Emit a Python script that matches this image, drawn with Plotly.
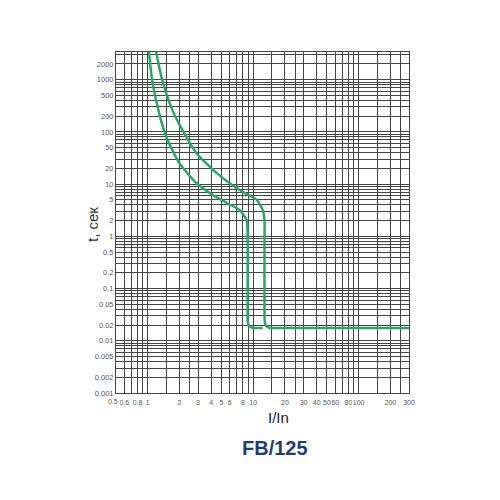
import plotly.graph_objects as go
import math

# ---- data ----
x_tick_vals = [0.6, 0.8, 1, 2, 3, 4, 5, 6, 8, 10, 20, 30, 40, 50, 60, 80, 100, 200, 300]
x_tick_text = ["0.6", "0.8", "1", "2", "3", "4", "5", "6", "8", "10", "20", "30", "40",
               "50", "60", "80", "100", "200", "300"]
x_first_tick = 0.5
x_first_text = "0.5"
x_minor_grid = [0.5, 0.7, 0.9, 1.5, 2.5, 7, 9, 15, 25, 70, 90, 150, 250]

y_tick_vals = [0.001, 0.002, 0.005, 0.01, 0.02, 0.05, 0.1, 0.2, 0.5, 1, 2, 5, 10, 20, 50,
               100, 200, 500, 1000, 2000]
y_tick_text = ["0.001", "0.002", "0.005", "0.01", "0.02", "0.05", "0.1", "0.2", "0.5", "1",
               "2", "5", "10", "20", "50", "100", "200", "500", "1000", "2000"]
y_minor_grid = [m * 10 ** e for e in range(-3, 4) for m in (3, 4, 6, 7, 8, 9)] + [3000]

# lower (left) curve: I/In, t
curve1_I = [1.02, 1.10, 1.28, 1.50, 1.99, 2.89, 3.85, 5.58, 7.42, 8.65, 8.85, 8.85, 8.9, 9.2, 9.8, 12.3]
curve1_t = [4000, 990, 231, 80, 25.5, 10.5, 6.8, 4.4, 3.2, 2.06, 1.16, 0.029, 0.022, 0.019, 0.0178, 0.0176]

# upper (right) curve
curve2_I = [1.18, 1.37, 1.71, 2.13, 2.89, 4.48, 7.42, 10.8, 12.3, 12.8, 12.8, 12.8, 12.9, 13.3, 14.2, 16.7, 300]
curve2_t = [4000, 990, 264, 109, 39.6, 16.4, 7.7, 5.0, 3.2, 2.06, 1.16, 0.029, 0.022, 0.019, 0.0178, 0.0176, 0.0176]

green = "#27a866"
grid = "#454545"
tickfam = "Liberation Sans, Arial, sans-serif"
tickcol = "#555"

L, R, T, B = 108, 99, 44, 115
PW, PH = 500 - L - R, 500 - T - B

fig = go.Figure()
fig.add_trace(go.Scatter(x=curve1_I, y=curve1_t, mode="lines",
                         line=dict(color=green, width=2.5, shape="spline", smoothing=0.6),
                         hoverinfo="skip", showlegend=False))
fig.add_trace(go.Scatter(x=curve2_I, y=curve2_t, mode="lines",
                         line=dict(color=green, width=2.5, shape="spline", smoothing=0.6),
                         hoverinfo="skip", showlegend=False))

fig.update_layout(
    width=500, height=500,
    margin=dict(l=L, r=R, t=T, b=B, autoexpand=False),
    paper_bgcolor="white", plot_bgcolor="white",
    font=dict(family="Liberation Sans, Arial, sans-serif", color="#444"),
    xaxis=dict(
        type="log", range=[math.log10(0.5), math.log10(300)],
        tickmode="array", tickvals=x_tick_vals, ticktext=x_tick_text, tickangle=0,
        tickfont=dict(size=7, color=tickcol, family=tickfam), ticks="",
        ticklabelstandoff=3,
        showgrid=True, gridcolor=grid, gridwidth=1,
        minor=dict(tickmode="array", tickvals=x_minor_grid, showgrid=True,
                   gridcolor=grid, gridwidth=1, ticks=""),
        showline=True, linecolor=grid, linewidth=1, mirror=True, zeroline=False,
        automargin=False,
    ),
    yaxis=dict(
        type="log", range=[-3, 3.53],
        tickmode="array", tickvals=y_tick_vals, ticktext=y_tick_text,
        tickfont=dict(size=7.5, color=tickcol, family=tickfam), ticks="",
        showgrid=True, gridcolor=grid, gridwidth=1,
        minor=dict(tickmode="array", tickvals=y_minor_grid, showgrid=True,
                   gridcolor=grid, gridwidth=1, ticks=""),
        showline=True, linecolor=grid, linewidth=1, mirror=True, zeroline=False,
        automargin=False,
    ),
    annotations=[
        dict(text=x_first_text, xref="x", yref="paper", x=math.log10(x_first_tick), y=0,
             xanchor="center", yanchor="middle", yshift=-8.5, xshift=-3, showarrow=False,
             borderpad=0, font=dict(size=7, color=tickcol, family=tickfam)),
        dict(text="t, сек", xref="paper", yref="paper", x=(84 - L) / PW, y=(T + PH - (225 - 8)) / PH,
             xanchor="center", yanchor="middle", textangle=-90, showarrow=False,
             font=dict(size=15, color="#333")),
        dict(text="I/In", xref="paper", yref="paper", x=(270 - L) / PW, y=-(409 - T - PH) / PH,
             xanchor="center", yanchor="middle", showarrow=False,
             font=dict(size=15, color="#222")),
        dict(text="<b>FB/125</b>", xref="paper", yref="paper", x=(267 - L) / PW,
             y=-(440 - T - PH) / PH, xanchor="center", yanchor="middle", showarrow=False,
             font=dict(size=20, color="#1f3d74")),
    ],
)

fig.write_html("out.html")
